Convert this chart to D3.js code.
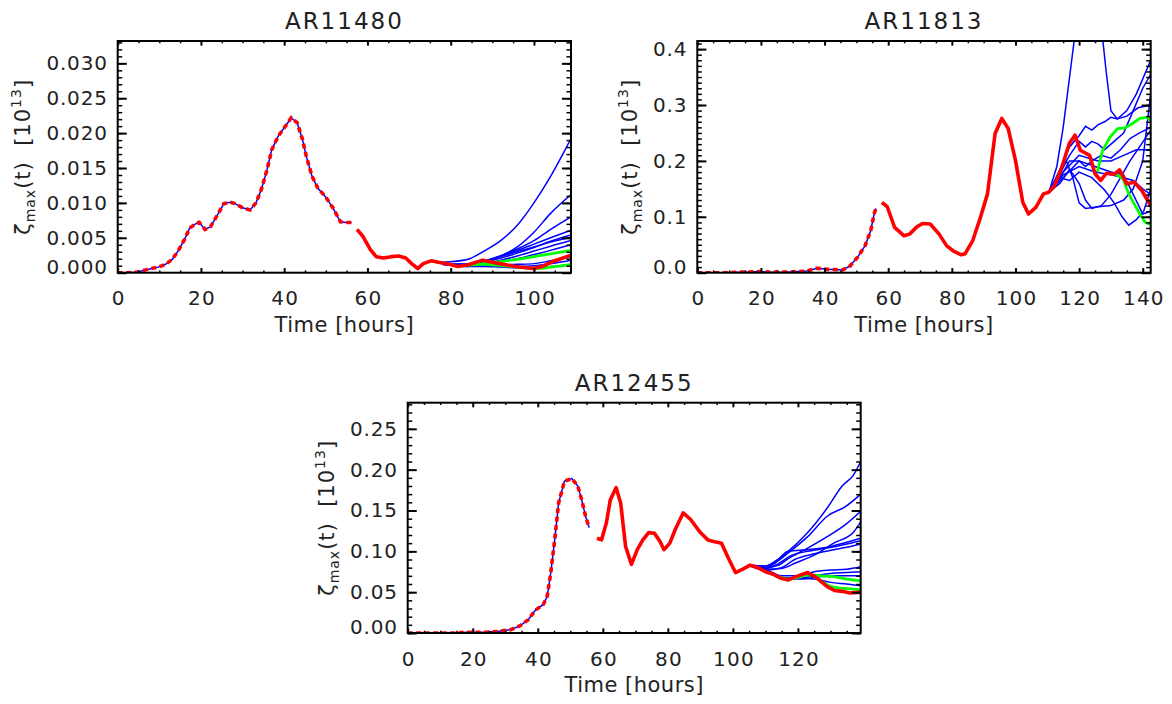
<!DOCTYPE html>
<html>
<head>
<meta charset="utf-8">
<script src="https://cdn.jsdelivr.net/npm/d3@7"></script>
<style>
body { margin:0; background:#fff; }
svg { display:block; }
text { font-family:"DejaVu Sans", sans-serif; fill:#222; }
</style>
</head>
<body>
<svg id="chart" width="1172" height="704"></svg>
<script>

// ---- AR11480 ----
const p1RedDashed=[[0,0],[2.4,0],[4.7,0.0001],[7.4,0.0005],[9.7,0.0008],[11.5,0.0012],[13.1,0.0019],[14.6,0.0032],[16,0.0047],[17.3,0.0064],[18.7,0.0070],[19.6,0.0072],[21,0.0062],[22.3,0.0066],[23.7,0.0080],[25.5,0.0099],[27,0.0101],[28.2,0.0099],[30,0.0093],[31.8,0.0090],[33.2,0.0100],[34.5,0.0119],[35.9,0.0148],[37,0.0176],[38.6,0.0196],[40.4,0.0211],[41.7,0.0222],[43.1,0.0215],[44.4,0.0191],[45.3,0.0167],[46.7,0.0138],[48.1,0.0121],[49.9,0.0109],[51.7,0.0093],[53.5,0.0073],[54.8,0.0072],[56.2,0.0072]];
const p1RedSolid=[[57.5,0.0062],[58.9,0.0052],[60.7,0.0033],[62.1,0.0023],[63.9,0.0021],[65.7,0.0023],[67.5,0.0024],[69.2,0.0021],[70.6,0.0013],[72.1,0.0006],[73.4,0.0013],[75.3,0.0017],[77,0.0015],[79.7,0.0012],[81.7,0.0009],[84,0.0011],[87.7,0.0018],[91.7,0.0013],[95.5,0.0009],[99.7,0.0006],[102,0.0009],[104.5,0.0016],[108.9,0.0025]];
const p1Blue=[
  [[78,0.0015],[84,0.0019],[88,0.0031],[92,0.0046],[96,0.0068],[100,0.0100],[104,0.0138],[108.9,0.0192]],
  [[78,0.0012],[84,0.0012],[88,0.0016],[92,0.0024],[96,0.0037],[100,0.0058],[104,0.0085],[108.9,0.0112]],
  [[78,0.0012],[84,0.0012],[88,0.0016],[92,0.0024],[96,0.0034],[100,0.0046],[104,0.0062],[108.9,0.0080]],
  [[78,0.0012],[84,0.0012],[88,0.0017],[92,0.0024],[96,0.0032],[100,0.0041],[104,0.0050],[108.9,0.0061]],
  [[78,0.0012],[84,0.0011],[88,0.0015],[92,0.0021],[96,0.0028],[100,0.0036],[104,0.0045],[108.9,0.0054]],
  [[78,0.0012],[84,0.0011],[88,0.0016],[92,0.0023],[96,0.0030],[100,0.0037],[104,0.0044],[108.9,0.0051]],
  [[78,0.0012],[84,0.0010],[88,0.0013],[92,0.0018],[96,0.0024],[100,0.0031],[104,0.0038],[108.9,0.0046]],
  [[78,0.0012],[84,0.0010],[88,0.0012],[92,0.0016],[96,0.0020],[100,0.0026],[104,0.0032],[108.9,0.0040]],
  [[78,0.0012],[84,0.0010],[88,0.0011],[92,0.0011],[96,0.0012],[100,0.0013],[104,0.0017],[108.9,0.0023]],
  [[78,0.0012],[84,0.0009],[88,0.0010],[92,0.0009],[96,0.0009],[100,0.0010],[104,0.0013],[108.9,0.0018]],
  [[78,0.0012],[84,0.0009],[88,0.0009],[92,0.0008],[96,0.0007],[100,0.0007],[104,0.0009],[108.9,0.0011]]
];
const p1Green=[
  [[84,0.0011],[88,0.0013],[92,0.0016],[96,0.0019],[100,0.0023],[104,0.0027],[108.9,0.0032]],
  [[84,0.0011],[88,0.0012],[92,0.0010],[96,0.0008],[100,0.0006],[104,0.0008],[108.9,0.0012]]
];

// ---- AR11813 ----
const p2RedDashed=[[0,0],[3,0],[6,0],[9,0],[13,0.001],[16,0.001],[19.5,0.002],[22,0.001],[25,0.001],[28,0.001],[31.7,0.002],[34.5,0.003],[37.6,0.008],[41,0.006],[45.7,0.005],[48,0.012],[50.4,0.028],[52.7,0.048],[54.5,0.075],[55.7,0.108],[56.2,0.115]];
const p2RedSolid=[[58,0.126],[59.7,0.118],[62,0.081],[65,0.066],[66.7,0.069],[69,0.082],[70.8,0.088],[73.2,0.087],[76,0.069],[78.4,0.048],[80.7,0.038],[83,0.032],[84.2,0.034],[86.6,0.058],[89,0.099],[91.2,0.141],[93.6,0.249],[95.7,0.276],[97.7,0.258],[100,0.201],[102.3,0.126],[104.1,0.105],[106.4,0.117],[108.8,0.141],[110.5,0.144],[112.3,0.156],[114.6,0.189],[116.9,0.231],[118.7,0.246],[120.4,0.219],[123.3,0.210],[125,0.177],[126.8,0.165],[128.6,0.178],[131,0.176],[132.7,0.184],[135,0.159],[137.3,0.162],[139.7,0.147],[142.5,0.120]];
const p2Blue=[
  [[110.5,0.144],[113,0.19],[115,0.26],[117,0.35],[119,0.44],[127,0.44],[128.5,0.36],[130,0.29],[132,0.275],[135,0.28],[138.5,0.295],[142.5,0.30]],
  [[110.5,0.144],[114,0.185],[117,0.225],[120,0.245],[122,0.262],[124,0.255],[126,0.265],[128,0.27],[130,0.278],[132,0.275],[135,0.29],[138,0.32],[142.5,0.38]],
  [[110.5,0.144],[114,0.18],[117,0.21],[120,0.235],[122,0.225],[124,0.235],[126,0.23],[128,0.22],[131,0.235],[134,0.25],[137,0.29],[140,0.33],[142.5,0.355]],
  [[110.5,0.144],[114,0.17],[117,0.2],[120,0.2],[122,0.19],[124,0.2],[127,0.21],[130,0.205],[133,0.22],[136,0.24],[139,0.25],[142.5,0.26]],
  [[110.5,0.144],[114,0.16],[117,0.185],[120,0.16],[122,0.13],[124,0.115],[127,0.12],[130,0.14],[133,0.17],[136,0.2],[139,0.225],[142.5,0.255]],
  [[110.5,0.144],[113,0.165],[116,0.2],[118,0.17],[120,0.125],[122,0.115],[126,0.118],[130,0.12],[134,0.13],[137,0.15],[140,0.2],[142.5,0.32]],
  [[110.5,0.144],[114,0.17],[117,0.165],[120,0.18],[124,0.17],[128,0.148],[131,0.125],[133.5,0.1],[135.6,0.085],[138,0.095],[140.3,0.11],[142.5,0.15]],
  [[110.5,0.144],[115,0.175],[120,0.19],[125,0.18],[130,0.175],[134,0.17],[137,0.165],[140,0.15],[142.5,0.14]],
  [[110.5,0.144],[115,0.17],[120,0.2],[125,0.19],[130,0.18],[134,0.175],[137,0.14],[140,0.105],[142.5,0.11]],
  [[110.5,0.144],[115,0.18],[120,0.21],[126,0.2],[130,0.2],[134,0.21],[138,0.22],[142.5,0.22]]
];
const p2Green=[
  [[125.7,0.18],[127.4,0.219],[129.8,0.243],[132.1,0.258],[134.4,0.259],[136.8,0.267],[139.1,0.276],[141.4,0.278],[142.5,0.273]],
  [[131,0.178],[133.8,0.168],[135.6,0.141],[137.3,0.123],[139.1,0.105],[140.8,0.09],[142.5,0.086]]
];

// ---- AR12455 ----
const p3RedDashed=[[0,0],[3,0],[6,0],[9,0],[12,0],[15,0],[18,0.001],[21,0.001],[24,0.001],[28,0.002],[31.7,0.004],[34.6,0.009],[37,0.016],[39.3,0.028],[41.7,0.035],[42.9,0.045],[44,0.074],[45.2,0.114],[46.4,0.159],[48.2,0.186],[50.5,0.189],[52.3,0.18],[53.5,0.163],[54.7,0.143],[55.8,0.129]];
const p3RedSolid=[[58.2,0.116],[59.6,0.114],[61.1,0.135],[62.3,0.163],[64.1,0.178],[65.5,0.159],[67,0.106],[68.8,0.084],[70.6,0.102],[72.3,0.114],[74.1,0.123],[75.9,0.122],[77.6,0.112],[78.8,0.102],[80.6,0.110],[82.3,0.127],[84.7,0.147],[87,0.139],[90,0.123],[92.3,0.114],[94.1,0.112],[96.5,0.110],[98.8,0.09],[100.8,0.074],[102.9,0.078],[105.3,0.083],[107.7,0.080],[110,0.075],[112.4,0.072],[114.8,0.067],[117.1,0.065],[119.4,0.069],[123,0.074],[125.3,0.069],[128.9,0.057],[131.2,0.052],[133.6,0.051],[136,0.049],[139.3,0.050]];
const p3Blue=[
  [[105,0.083],[110,0.082],[113,0.088],[117,0.1],[123,0.123],[129,0.153],[133.6,0.18],[137,0.193],[139.3,0.21]],
  [[105,0.083],[110,0.082],[113,0.086],[117,0.098],[123,0.118],[129,0.143],[134.7,0.155],[139.3,0.17]],
  [[105,0.083],[110,0.08],[114,0.083],[117,0.091],[123,0.104],[129,0.118],[134.7,0.133],[139.3,0.149]],
  [[105,0.083],[110,0.078],[115,0.079],[119.4,0.086],[125.3,0.096],[131,0.11],[137,0.123],[139.3,0.136]],
  [[105,0.083],[110,0.08],[113,0.086],[117,0.1],[123,0.102],[129,0.105],[134,0.11],[139.3,0.116]],
  [[105,0.083],[110,0.079],[114,0.085],[118,0.095],[123,0.1],[129,0.104],[134,0.108],[139.3,0.113]],
  [[105,0.083],[110,0.077],[115,0.08],[119,0.09],[125,0.097],[131,0.102],[135,0.105],[139.3,0.109]],
  [[105,0.083],[110,0.078],[115,0.07],[120,0.07],[125,0.075],[130,0.077],[135,0.078],[139.3,0.081]],
  [[105,0.083],[110,0.077],[115,0.068],[120,0.067],[125,0.07],[130,0.073],[135,0.074],[139.3,0.075]],
  [[105,0.083],[110,0.076],[115,0.067],[120,0.066],[125,0.068],[130,0.07],[135,0.07],[139.3,0.07]],
  [[105,0.083],[110,0.076],[115,0.067],[120,0.067],[125,0.066],[130,0.062],[135,0.06],[139.3,0.058]]
];
const p3Green=[
  [[114,0.069],[117,0.066],[120,0.068],[123,0.071],[127,0.07],[131,0.069],[135,0.066],[139.3,0.064]],
  [[124,0.072],[127,0.064],[130,0.057],[133,0.055],[136,0.054],[139.3,0.053]]
];

const xTickStep=20, xMinorStep=5;

const panels=[
  {title:'AR11480', left:117.7, top:41,    width:453.3, height:231.7, xMax:108.9, yMax:0.0332, yStep:0.005, yMinor:0.001, yFmt:'.3f',
   dashed:p1RedDashed, solid:p1RedSolid, blue:p1Blue, green:p1Green, smooth:true},
  {title:'AR11813', left:697.3, top:41,    width:453.4, height:231.7, xMax:142.5, yMax:0.4145, yStep:0.1,   yMinor:0.01,  yFmt:'.1f',
   dashed:p2RedDashed, solid:p2RedSolid, blue:p2Blue, green:p2Green, smooth:false},
  {title:'AR12455', left:407.7, top:402.7, width:453,   height:230.3, xMax:139.3, yMax:0.282,  yStep:0.05,  yMinor:0.01,  yFmt:'.2f',
   dashed:p3RedDashed, solid:p3RedSolid, blue:p3Blue, green:p3Green, smooth:true}
];

const svg=d3.select('#chart');

function styleAxis(a,w) {
  a.select('.domain').remove();
  a.selectAll('line').attr('stroke','#000').attr('stroke-width',w);
  return a;
}

panels.forEach((p,k)=>{
  const x=d3.scaleLinear().domain([0,p.xMax]).range([0,p.width]);
  const y=d3.scaleLinear().domain([0,p.yMax]).range([p.height,0]);
  const g=svg.append('g').attr('transform',`translate(${p.left},${p.top})`);

  g.append('clipPath').attr('id','clip'+k)
   .append('rect').attr('width',p.width).attr('height',p.height);
  const plot=g.append('g').attr('clip-path',`url(#clip${k})`);

  const curve= p.smooth ? d3.curveMonotoneX : d3.curveLinear;
  const lineS=d3.line().x(d=>x(d[0])).y(d=>y(d[1])).curve(curve);
  const lineR=d3.line().x(d=>x(d[0])).y(d=>y(d[1]));

  plot.selectAll('path.blue').data(p.blue).join('path')
      .attr('class','blue').attr('d',lineS)
      .attr('fill','none').attr('stroke','#0000ff').attr('stroke-width',1.5);
  plot.append('path').attr('d',lineR(p.dashed))
      .attr('fill','none').attr('stroke','#0000ff').attr('stroke-width',1.5);
  plot.selectAll('path.green').data(p.green).join('path')
      .attr('class','green').attr('d',lineS)
      .attr('fill','none').attr('stroke','#00ff00').attr('stroke-width',2.8);
  plot.append('path').attr('d',lineR(p.dashed))
      .attr('fill','none').attr('stroke','#ff0000').attr('stroke-width',3.6)
      .attr('stroke-dasharray','5,3.5');
  plot.append('path').attr('d',lineR(p.solid))
      .attr('fill','none').attr('stroke','#ff0000').attr('stroke-width',3.6)
      .attr('stroke-linejoin','round');

  // ticks, IDL style: inward on all four sides
  const xLen=p.height*0.02, yLen=p.width*0.02;
  const xMajor=d3.range(0,p.xMax+1e-6,xTickStep);
  const xMinor=d3.range(0,p.xMax,xMinorStep).filter(v=>v%xTickStep!==0);
  const nY=Math.floor(p.yMax/p.yStep+1e-6);
  const yMajor=d3.range(0,nY+1).map(i=>+(i*p.yStep).toFixed(5));
  const nYm=Math.floor(p.yMax/p.yMinor+1e-6);
  const yMinor=d3.range(0,nYm+1).map(i=>+(i*p.yMinor).toFixed(5));

  const bx=styleAxis(g.append('g').attr('transform',`translate(0,${p.height})`)
      .call(d3.axisBottom(x).tickValues(xMajor).tickSize(-xLen).tickFormat(d3.format('d'))),2);
  bx.selectAll('text').attr('y',32.5).attr('dy',null).attr('dx',0.6)
      .attr('font-size',20).attr('letter-spacing',1.2).attr('font-family','DejaVu Sans').attr('fill','#222');
  styleAxis(g.append('g').attr('transform',`translate(0,${p.height})`)
      .call(d3.axisBottom(x).tickValues(xMinor).tickSize(-xLen/2).tickFormat('')),1.5);
  styleAxis(g.append('g')
      .call(d3.axisTop(x).tickValues(xMajor).tickSize(-xLen).tickFormat('')),2);
  styleAxis(g.append('g')
      .call(d3.axisTop(x).tickValues(xMinor).tickSize(-xLen/2).tickFormat('')),1.5);

  const ly=styleAxis(g.append('g')
      .call(d3.axisLeft(y).tickValues(yMajor).tickSize(-yLen).tickPadding(10).tickFormat(d3.format(p.yFmt))),2);
  ly.selectAll('text').attr('font-size',20).attr('letter-spacing',0.8).attr('font-family','DejaVu Sans').attr('fill','#222')
      .attr('y',(d,i)=>i===0?-6:0);
  styleAxis(g.append('g')
      .call(d3.axisLeft(y).tickValues(yMinor).tickSize(-yLen/2).tickFormat('')),1.5);
  styleAxis(g.append('g').attr('transform',`translate(${p.width},0)`)
      .call(d3.axisRight(y).tickValues(yMajor).tickSize(-yLen).tickFormat('')),2);
  styleAxis(g.append('g').attr('transform',`translate(${p.width},0)`)
      .call(d3.axisRight(y).tickValues(yMinor).tickSize(-yLen/2).tickFormat('')),1.5);

  g.append('rect').attr('width',p.width).attr('height',p.height)
   .attr('fill','none').attr('stroke','#000').attr('stroke-width',2);

  g.append('text').attr('x',p.width/2).attr('y',-12).attr('text-anchor','middle')
   .attr('font-size',23).attr('letter-spacing',2).text(p.title);

  g.append('text').attr('x',p.width/2).attr('y',p.height+59).attr('text-anchor','middle')
   .attr('font-size',21).attr('letter-spacing',0.5).text('Time [hours]');

  // y title sits left of the widest tick label
  const lw=d3.max(ly.selectAll('text').nodes(),n=>n.getComputedTextLength());
  const tx=-(10+lw+16);
  const yt=g.append('text').attr('transform',`translate(${tx},${p.height/2}) rotate(-90)`)
      .attr('text-anchor','middle').attr('font-size',21).attr('letter-spacing',1);
  yt.append('tspan').text('ζ');
  yt.append('tspan').attr('font-size',14).attr('dy',5).text('max');
  yt.append('tspan').attr('dy',-5).text('(t)\u00a0\u00a0[10');
  yt.append('tspan').attr('font-size',14).attr('dy',-9).text('13');
  yt.append('tspan').attr('dy',9).text(']');
});

</script>
</body>
</html>
